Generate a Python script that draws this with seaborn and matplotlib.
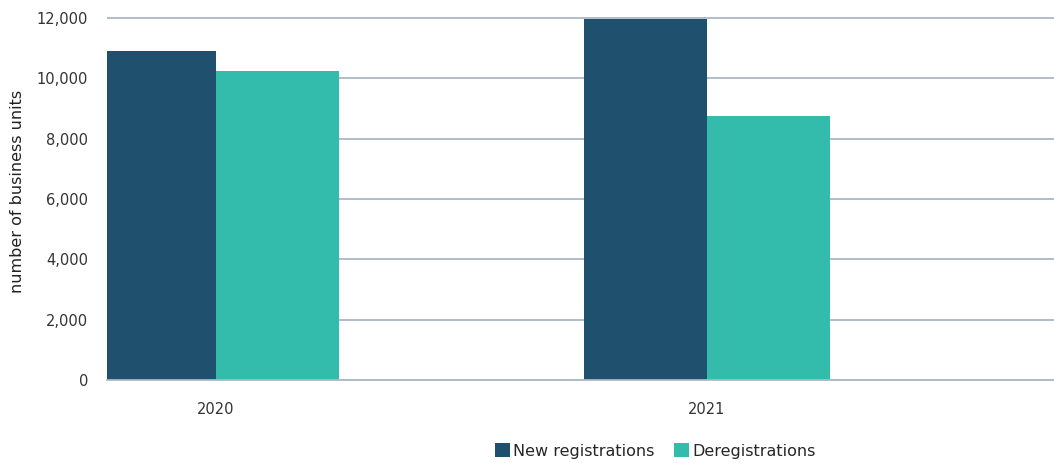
import matplotlib
matplotlib.use("Agg")
import matplotlib.pyplot as plt
import seaborn as sns
import pandas as pd

years = ["2020", "2021"]
series_names = ["New registrations", "Deregistrations"]
new_registrations = [10900, 11960]
deregistrations = [10240, 8750]
y_ticks = [0, 2000, 4000, 6000, 8000, 10000, 12000]

df = pd.DataFrame({
    "year": years * 2,
    "series": [series_names[0]] * len(years) + [series_names[1]] * len(years),
    "value": new_registrations + deregistrations,
})

sns.set_theme(style="white")
plt.rcParams["font.family"] = ["DejaVu Sans"]

fig = plt.figure(figsize=(10.54, 4.63), dpi=100)
ax = fig.add_axes([107 / 1054, 1 - 380 / 463, 1 - 107 / 1054, (380 - 17) / 463])

palette = {"New registrations": "#1f516e", "Deregistrations": "#33bbac"}
sns.barplot(data=df, x="year", y="value", hue="series", palette=palette,
            width=0.5, gap=0, saturation=1, linewidth=0, ax=ax, legend=True)

ax.set_xlim(-0.222, 1.707)
ax.set_ylim(0, 12030)
ax.set_yticks(y_ticks)
ax.set_yticklabels([f"{v:,}" for v in y_ticks], fontsize=10.5, color="#333333")
ax.tick_params(axis="y", length=0, pad=13.5)
ax.tick_params(axis="x", length=5, width=0.8, color="#dddddd", pad=11,
               labelsize=10.5, labelcolor="#333333")
ax.set_xlabel("")
ax.set_ylabel("number of business units", fontsize=11.5, color="#222222")
ax.yaxis.set_label_coords(-0.087, 0.52)

ax.yaxis.grid(True, color="#aab8c4", linewidth=1.3)
ax.set_axisbelow(True)
for side in ["left", "right", "top"]:
    ax.spines[side].set_visible(False)
ax.spines["bottom"].set_color("#aab8c4")
ax.spines["bottom"].set_linewidth(1.3)

handles, labels = ax.get_legend_handles_labels()
ax.legend(handles, labels, loc="center", bbox_to_anchor=(655 / 1054, 1 - 451 / 463),
          bbox_transform=fig.transFigure, ncol=2, frameon=False, fontsize=11.5,
          handlelength=0.95, handleheight=0.95, handletextpad=0.2, columnspacing=1.2)

fig.savefig("out.png", dpi=100)
